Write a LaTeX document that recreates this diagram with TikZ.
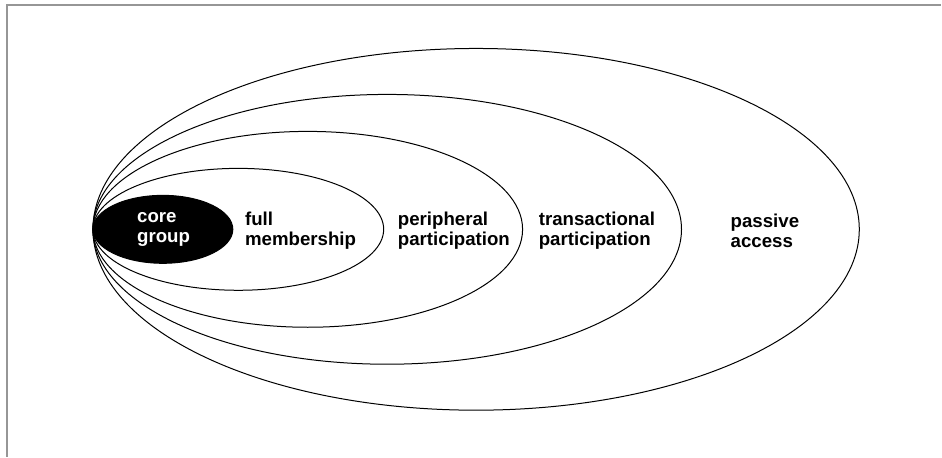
\documentclass[tikz,border=0pt]{standalone}
\usepackage{fontspec}
\setmainfont{Liberation Sans}
\usepackage{xcolor}
\usetikzlibrary{positioning}

\tikzset{
  ring/.style={line width=0.75pt},
  label/.style={font=\fontsize{14}{15.5}\selectfont\bfseries, align=left, anchor=west, inner sep=0pt}
}

\begin{document}
\begin{tikzpicture}[x=0.75pt,y=0.75pt,yscale=-1,xscale=1]
			\path (0,0) rectangle (942,457); %set diagram size 942 x 457
			
			%Frame edges
			\draw [color={rgb, 255:red, 150; green, 150; blue, 150}, line width=1.1pt] (7,457) -- (7,5) -- (942,5) ;
			
			%Shape: Ellipse [passive access]
			\draw [ring] (476.5,229.5) ellipse (287.6pt and 135.75pt) ;
			%Shape: Ellipse [transactional participation]
			\draw [ring] (387.5,229.5) ellipse (220.9pt and 101.25pt) ;
			%Shape: Ellipse [peripheral participation]
			\draw [ring] (308,229.5) ellipse (161.25pt and 73.5pt) ;
			%Shape: Ellipse [full membership]
			\draw [ring] (238.5,229.5) ellipse (109.1pt and 45.75pt) ;
			%Shape: Ellipse [core group]
			\draw [ring, fill=black] (163,229.5) ellipse (52.5pt and 25.5pt) ;
			
			% Text Node
			\node [label, text=white] (core) at (137,229.5) {core\\group};
			% Text Node
			\node [label] (full) at (245,231) {full\\membership};
			% Text Node
			\node [label] (periph) at (398,231) {peripheral\\participation};
			% Text Node
			\node [label] (trans) at (539,231) {transactional\\participation};
			% Text Node
			\node [label] (passive) at (731,231) {passive\\access};
			
\end{tikzpicture}
\end{document}
